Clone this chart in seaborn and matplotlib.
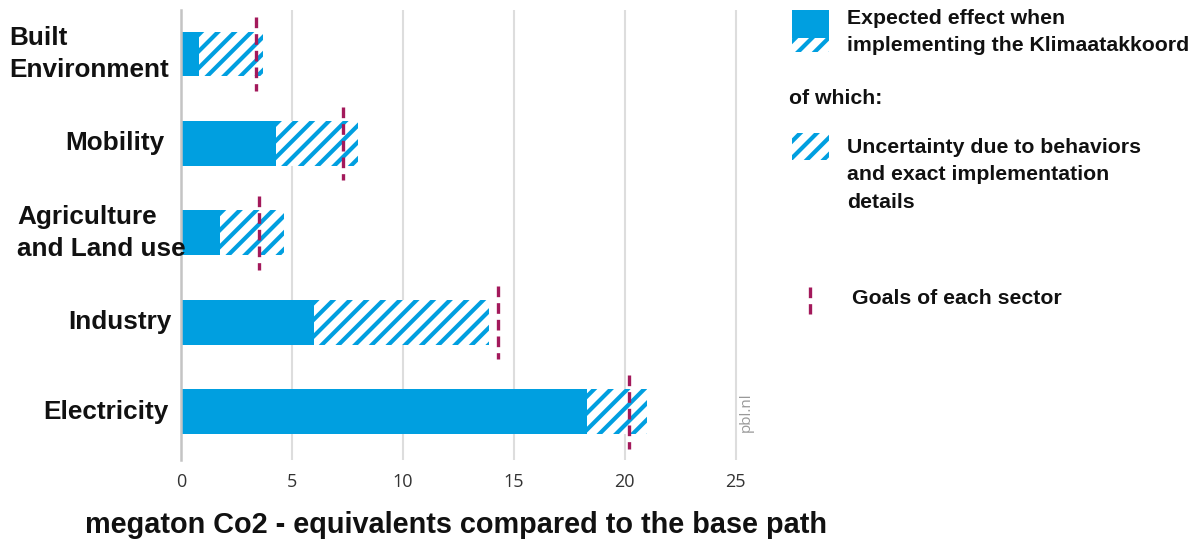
import numpy as np
import pandas as pd
import matplotlib
matplotlib.use('Agg')
import matplotlib.pyplot as plt
import seaborn as sns
from matplotlib.patches import Rectangle
from matplotlib.lines import Line2D

# Data (megaton CO2-eq)
sectors = ['Built\nEnvironment', 'Mobility', 'Agriculture\nand Land use', 'Industry', 'Electricity']
expected = [0.8, 4.3, 1.75, 6.0, 18.3]
upper = [3.7, 8.0, 4.65, 13.9, 21.0]
goals = [3.4, 7.3, 3.5, 14.3, 20.2]
xticks = [0, 5, 10, 15, 20, 25]

blauw = '#009fe0'
magenta = '#a3195b'
zwart = '#111111'

sns.set_style('white')
plt.rcParams['font.family'] = ['Liberation Sans', 'DejaVu Sans']
plt.rcParams['hatch.linewidth'] = 3.0

df = pd.DataFrame({'sector': sectors, 'expected': expected, 'upper': upper})

fig = plt.figure(figsize=(11.98, 5.42), dpi=100)
ax = fig.add_axes([0.151, 0.151, 0.50, 0.8305])

# hatched total bar first, then solid part on top
sns.barplot(data=df, x='upper', y='sector', orient='h', color='white', width=0.5, ax=ax)
for p in ax.patches:
    p.set_facecolor('white')
    p.set_edgecolor(blauw)
    p.set_hatch('//')
    p.set_linewidth(0)
n = len(ax.patches)
sns.barplot(data=df, x='expected', y='sector', orient='h', color=blauw, saturation=1, width=0.5, ax=ax)
for p in ax.patches[n:]:
    p.set_facecolor(blauw)
    p.set_linewidth(0)

# goals per sector
for i, g in enumerate(goals):
    ax.plot([g, g], [i - 0.41, i + 0.41], color=magenta, lw=2.4, ls=(0, (3.2, 1.8)), zorder=5)

ax.set_xlim(0, 27)
ax.set_ylim(4.54, -0.49)
ax.set_xticks(xticks)
ax.set_xticklabels([str(t) for t in xticks], family='Open Sans', fontsize=13, color='#333333')
ax.grid(axis='x', color='#dddddd', lw=1.5)
ax.set_axisbelow(True)
ax.tick_params(axis='x', length=0, pad=9)
ax.set_yticklabels([])
ax.tick_params(axis='y', length=0)
ax.set_xlabel('')
ax.set_ylabel('')

# sector labels (the agriculture label sits a little further right in the original)
label_x = [-0.020, -0.028, 0.008, -0.015, -0.020]
for i, s in enumerate(sectors):
    ax.text(label_x[i], i, s, transform=ax.get_yaxis_transform(), ha='right', va='center',
            multialignment='left', fontsize=18.8, fontweight='bold', color=zwart, linespacing=1.4)

sns.despine(ax=ax, left=False, bottom=True)
ax.spines['left'].set_color('#c4c4c4')
ax.spines['left'].set_linewidth(1.8)

ax.text(25.5, 4.0, 'pbl.nl', rotation=90, ha='center', va='center', color='#999999',
        fontsize=11, family='Open Sans')

fig.text(0.381, 0.031, 'megaton Co2 - equivalents compared to the base path',
         ha='center', va='center', fontsize=20.8, fontweight='bold', color=zwart)

# legende
W, H = 1198, 542
def fx(x):
    return x / W
def fy(y):
    return 1 - y / H

fig.patches.append(Rectangle((fx(792), fy(38)), fx(37), 28 / H, transform=fig.transFigure,
                             facecolor=blauw, lw=0))
fig.patches.append(Rectangle((fx(792), fy(52)), fx(37), 14 / H, transform=fig.transFigure,
                             facecolor='white', edgecolor=blauw, hatch='//', lw=0))
fig.text(fx(847), fy(32), 'Expected effect when\nimplementing the Klimaatakkoord', ha='left', va='center',
         fontsize=15.3, fontweight='bold', color=zwart, linespacing=1.55)
fig.text(fx(789), fy(98), 'of which:', ha='left', va='center', fontsize=15.3, fontweight='bold', color=zwart)
fig.patches.append(Rectangle((fx(792), fy(160)), fx(37), 27 / H, transform=fig.transFigure,
                             facecolor='white', edgecolor=blauw, hatch='//', lw=0))
fig.text(fx(847), fy(175), 'Uncertainty due to behaviors\nand exact implementation\ndetails', ha='left',
         va='center', fontsize=15.3, fontweight='bold', color=zwart, linespacing=1.55)
fig.lines.append(Line2D([fx(810), fx(810)], [fy(287), fy(314)], transform=fig.transFigure,
                        color=magenta, lw=2.4, ls=(0, (3.2, 1.8))))
fig.text(fx(852), fy(298), 'Goals of each sector', ha='left', va='center', fontsize=15.3,
         fontweight='bold', color=zwart)

plt.savefig('out.png', dpi=100)
